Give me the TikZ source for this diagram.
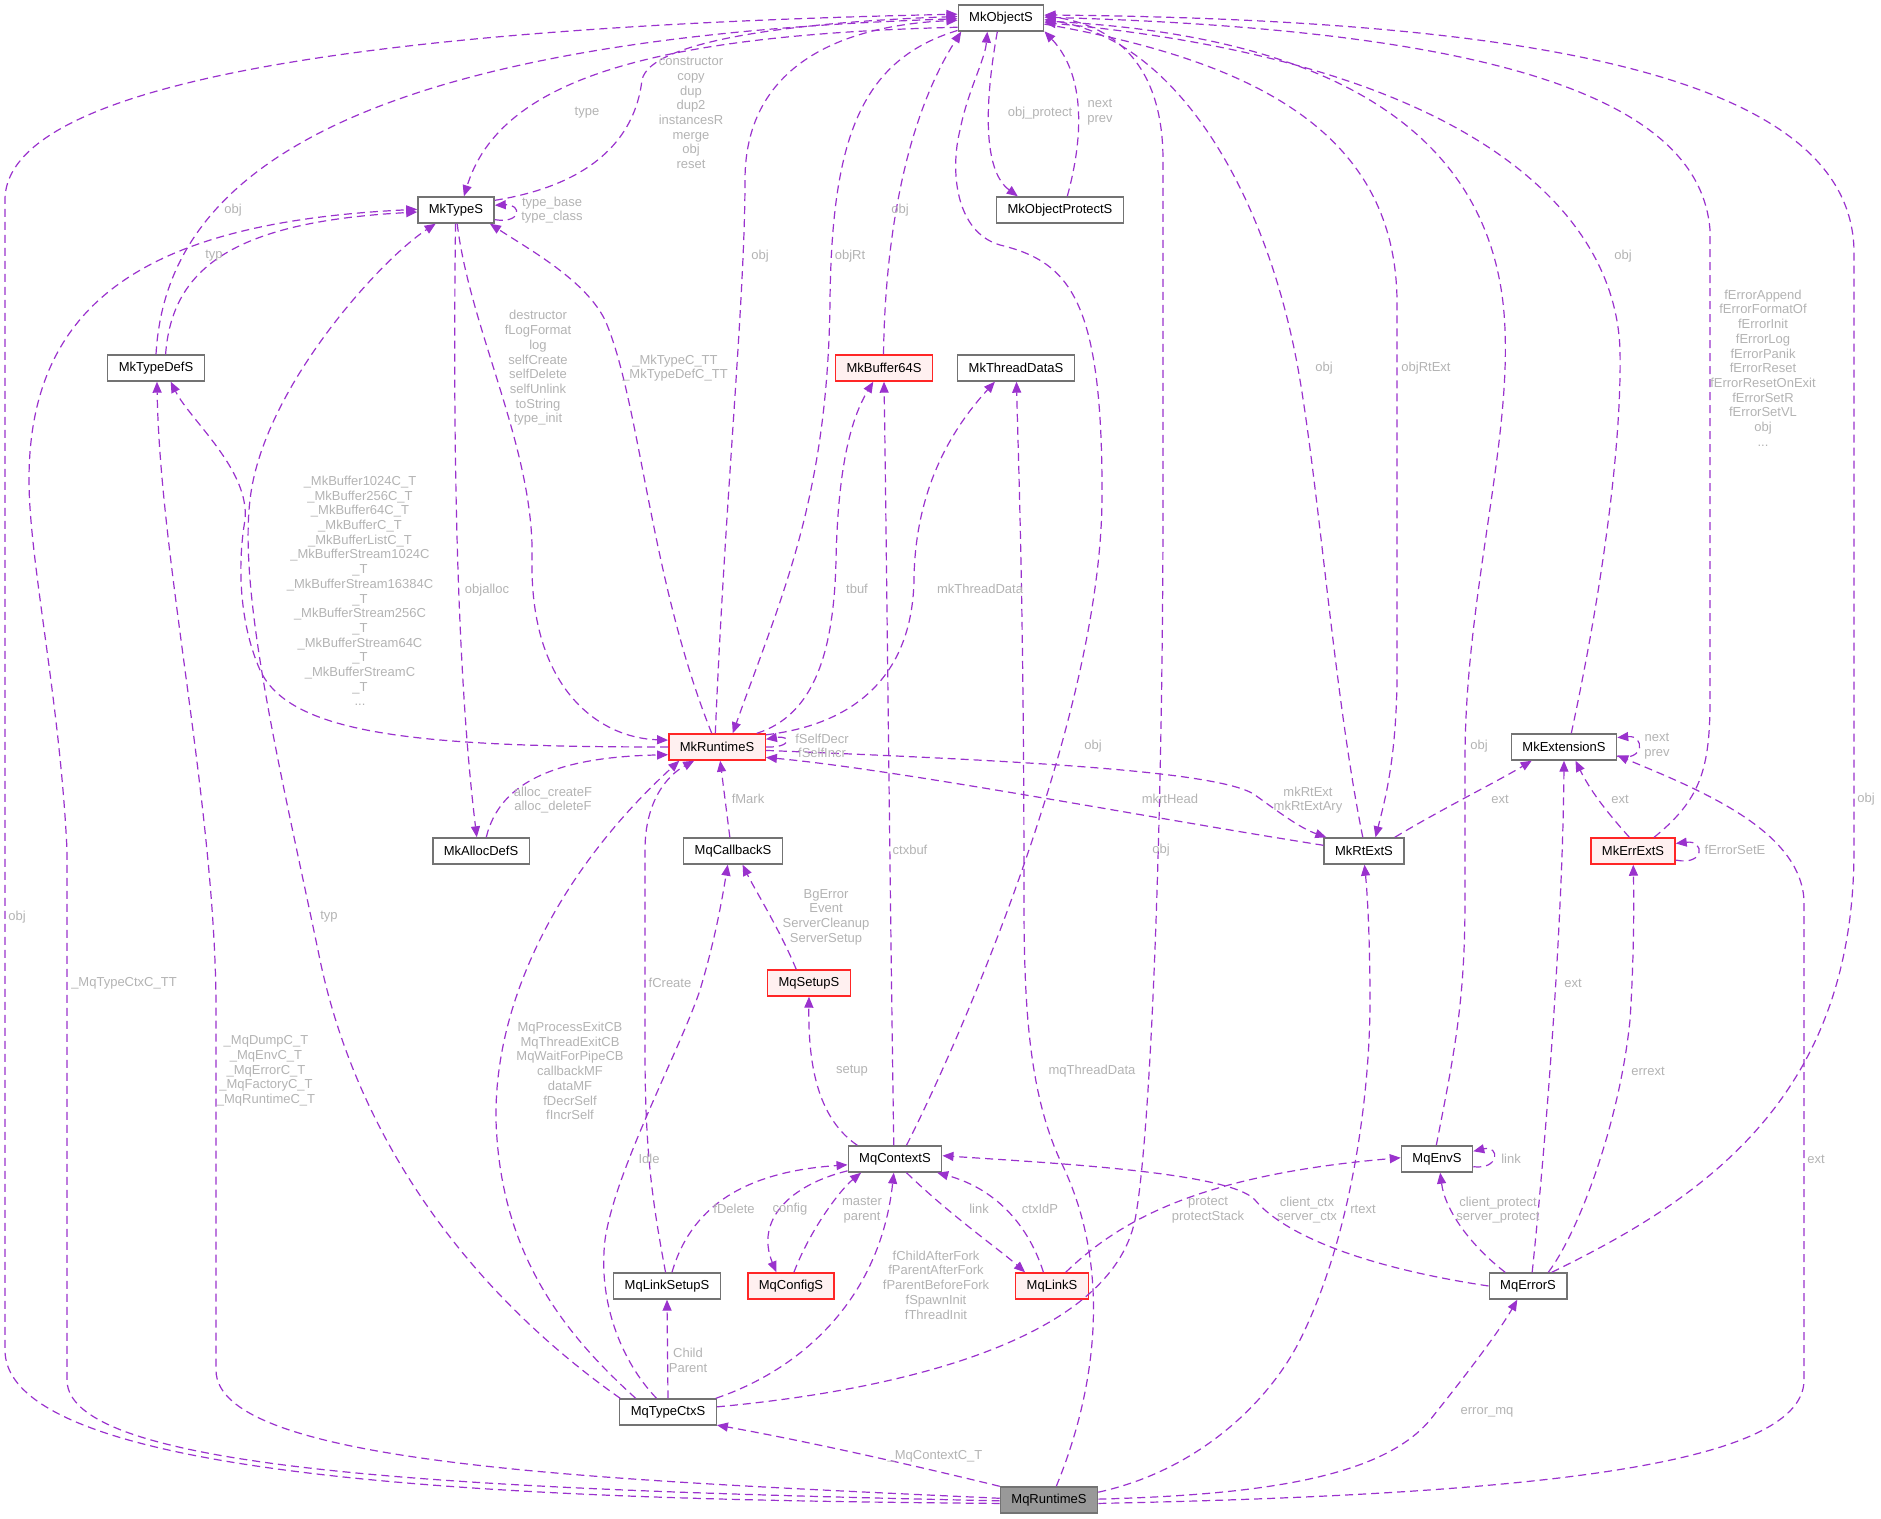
\documentclass[tikz,border=0pt]{standalone}
\usepackage{fontspec}
\setmainfont{Liberation Sans}
\usepackage{tikz}
\usetikzlibrary{arrows.meta}

\definecolor{edgecol}{HTML}{9A32CD}
\definecolor{lblgray}{HTML}{B3B3B3}
\definecolor{boxgray}{HTML}{737373}
\definecolor{truncfill}{HTML}{FFF0F0}
\definecolor{rootfill}{HTML}{999999}

\tikzset{
  cls/.style={draw=boxgray, fill=white, line width=0.7pt, minimum height=13pt, inner xsep=5.5pt, inner ysep=0pt},
  trunc/.style={cls, draw=red!85!white, fill=truncfill},
  root/.style={cls, fill=rootfill},
  rel/.style={->, draw=edgecol, line width=0.6pt, dash pattern=on 4pt off 2.5pt},
  lbl/.style={text=lblgray, align=center, inner sep=0pt}
}

\begin{document}
\begin{tikzpicture}[x=0.5pt,y=-0.5pt,>={Triangle[length=5.5pt,width=4.5pt]},
    every node/.style={font=\fontsize{6.5}{7.35}\selectfont}]
				\useasboundingbox (0,0) rectangle (1881,1519);

				% Draw the structs
				\node[cls] (mkobject) at (1001,18) {MkObjectS};
				\node[cls] (mktype) at (456,210) {MkTypeS};
				\node[cls] (mkprotect) at (1060,210) {MkObjectProtectS};
				\node[cls] (mktypedef) at (156,368) {MkTypeDefS};
				\node[trunc] (mkbuf) at (884,368) {MkBuffer64S};
				\node[cls] (mkthread) at (1016,368) {MkThreadDataS};
				\node[trunc] (mkrt) at (717,747) {MkRuntimeS};
				\node[cls] (mkext) at (1564,747) {MkExtensionS};
				\node[cls] (mkalloc) at (481,851) {MkAllocDefS};
				\node[cls] (mqcallback) at (733,851) {MqCallbackS};
				\node[cls] (mkrtext) at (1364,851) {MkRtExtS};
				\node[trunc] (mkerrext) at (1633,851) {MkErrExtS};
				\node[trunc] (mqsetup) at (809,983) {MqSetupS};
				\node[cls] (mqctx) at (895,1159) {MqContextS};
				\node[cls] (mqenv) at (1437,1159) {MqEnvS};
				\node[cls] (mqlinksetup) at (667,1286) {MqLinkSetupS};
				\node[trunc] (mqconfig) at (791,1286) {MqConfigS};
				\node[trunc] (mqlink) at (1052,1286) {MqLinkS};
				\node[cls] (mqerror) at (1528,1286) {MqErrorS};
				\node[cls] (mqtypectx) at (668,1412) {MqTypeCtxS};
				\node[root] (mqrt) at (1049,1500) {MqRuntimeS};

				% Draw the edges into MkObjectS and MkTypeS
				\draw[rel] (mkobject.192) .. controls (650,35) and (500,80) .. (mktype.60);
				\draw[rel] (mktype.14) .. controls (590,185) and (635,140) .. (642,80) .. controls (650,40) and (800,22) .. (mkobject.178);
				\draw[rel] (mktype.-14) .. controls (522,224) and (522,204) .. (mktype.7);
				\draw[rel] (mktypedef.north) .. controls (165,200) and (300,40) .. (mkobject.181);
				\draw[rel] (mktypedef.55) .. controls (172,270) and (230,222) .. (mktype.183);
				\draw[rel] (mqrt.181) .. controls (500,1490) and (67,1475) .. (67,1380) -- (67,850) .. controls (60,700) and (29,560) .. (29,480) .. controls (29,300) and (150,222) .. (mktype.179);
				\draw[rel] (mqrt.184) .. controls (600,1500) and (5,1490) .. (5,1350) -- (5,200) .. controls (5,70) and (450,25) .. (mkobject.175);
				\draw[rel] (mqrt.178) .. controls (600,1480) and (216,1465) .. (216,1370) -- (216,1000) .. controls (214,800) and (160,560) .. (mktypedef.-86);
				\draw[rel] (mkobject.-105) .. controls (985,100) and (982,170) .. (mkprotect.162);
				\draw[rel] (mkprotect.62) .. controls (1080,150) and (1090,80) .. (mkobject.-17);
				\draw[rel] (mkobject.196) .. controls (860,60) and (832,140) .. (830,300) .. controls (828,500) and (780,600) .. (mkrt.41);
				\draw[rel] (mkrt.97) .. controls (725,500) and (745,300) .. (745,180) .. controls (745,60) and (850,25) .. (mkobject.183);
				\draw[rel] (mkbuf.92) .. controls (885,240) and (905,120) .. (mkobject.-161);
				\draw[rel] (mkrt.111) .. controls (650,580) and (640,400) .. (605,320) .. controls (585,280) and (530,250) .. (mktype.-22);
				\draw[rel] (mkrt.west) .. controls (420,747) and (290,735) .. (260,670) .. controls (238,620) and (238,560) .. (245,520) .. controls (250,470) and (190,420) .. (mktypedef.-43);
				\draw[rel] (mktype.-92) .. controls (452,500) and (460,700) .. (mkalloc.107);
				\draw[rel] (mktype.-85) .. controls (470,330) and (535,450) .. (532,560) .. controls (530,690) and (600,738) .. (mkrt.172);
				\draw[rel] (mkalloc.69) .. controls (500,780) and (560,757) .. (mkrt.189);
				\draw[rel] (mqtypectx.164) .. controls (480,1300) and (360,1150) .. (320,960) .. controls (285,790) and (238,600) .. (250,500) .. controls (262,390) and (380,260) .. (mktype.-146);

				% Draw the edges of MqTypeCtxS
				\draw[rel] (mqtypectx.157) .. controls (560,1330) and (500,1250) .. (496,1120) .. controls (494,1000) and (560,870) .. (mkrt.-160);
				\draw[rel] (mqtypectx.130) .. controls (620,1360) and (598,1300) .. (605,1240) .. controls (615,1170) and (680,1050) .. (700,990) .. controls (715,940) and (722,900) .. (mqcallback.-111);
				\draw[rel] (mqlinksetup.96) .. controls (652,1200) and (645,1150) .. (645,1050) -- (645,850) .. controls (645,800) and (668,775) .. (mkrt.-149);
				\draw[rel] (mqlinksetup.70) .. controls (690,1210) and (740,1172) .. (mqctx.187);
				\draw[rel] (mqtypectx.north) -- (mqlinksetup.south);
				\draw[rel] (mqtypectx.16) .. controls (800,1370) and (880,1300) .. (mqctx.-95);
				\draw[rel] (mqtypectx.6) .. controls (900,1390) and (1110,1340) .. (1135,1220) .. controls (1152,1130) and (1163,800) .. (1163,500) -- (1163,160) .. controls (1163,60) and (1110,25) .. (mkobject.3);
				\draw[rel] (mqrt.north west) .. controls (900,1462) and (800,1440) .. (mqtypectx.-15);

				% Draw the edges of MqContextS
				\draw[rel] (mqctx.160) .. controls (820,1120) and (808,1070) .. (mqsetup.south);
				\draw[rel] (mqsetup.133) .. controls (780,930) and (755,890) .. (mqcallback.-55);
				\draw[rel] (mqcallback.103) -- (mkrt.-77);
				\draw[rel] (mqctx.95) .. controls (890,900) and (886,500) .. (mkbuf.south);
				\draw[rel] (mkrt.19) .. controls (815,715) and (834,650) .. (836,560) .. controls (838,470) and (850,420) .. (mkbuf.-128);
				\draw[rel] (mkrt.14) .. controls (850,725) and (912,680) .. (914,580) .. controls (915,480) and (960,420) .. (mkthread.-147);
				\draw[rel] (mqrt.62) .. controls (1100,1380) and (1110,1260) .. (1060,1160) .. controls (1028,1090) and (1024,1000) .. (1024,900) .. controls (1024,600) and (1018,450) .. (mkthread.-88);
				\draw[rel] (mqctx.50) .. controls (960,1040) and (1100,720) .. (1102,500) .. controls (1103,300) and (1070,262) .. (1000,245) .. controls (955,232) and (950,170) .. (960,130) .. controls (968,90) and (985,60) .. (mkobject.-135);
				\draw[rel] (mqctx.194) .. controls (790,1185) and (755,1220) .. (mqconfig.137);
				\draw[rel] (mqconfig.78) .. controls (810,1230) and (840,1190) .. (mqctx.-158);
				\draw[rel] (mqctx.-50) .. controls (950,1215) and (1000,1250) .. (mqlink.153);
				\draw[rel] (mqlink.122) .. controls (1030,1230) and (1000,1190) .. (mqctx.-18);
				\draw[rel] (mqlink.45) .. controls (1120,1220) and (1200,1175) .. (mqenv.178);

				% Draw the edges on the right side
				\draw[rel] (mkobject.-8) .. controls (1250,60) and (1395,130) .. (1397,300) -- (1397,680) .. controls (1396,760) and (1385,800) .. (mkrtext.50);
				\draw[rel] (mkrtext.95) .. controls (1335,700) and (1320,500) .. (1300,380) .. controls (1270,200) and (1180,40) .. (mkobject.-2);
				\draw[rel] (mqenv.93) .. controls (1455,1050) and (1465,1000) .. (1465,900) -- (1465,760) .. controls (1465,600) and (1510,450) .. (1505,330) .. controls (1500,180) and (1400,40) .. (mkobject.-4);
				\draw[rel] (mkext.62) .. controls (1600,600) and (1622,450) .. (1620,350) .. controls (1615,200) and (1450,60) .. (mkobject.-6);
				\draw[rel] (mkerrext.33) .. controls (1700,800) and (1710,770) .. (1710,700) -- (1710,230) .. controls (1700,100) and (1500,30) .. (mkobject.1);
				\draw[rel] (mqerror.30) .. controls (1700,1200) and (1854,1100) .. (1854,850) -- (1854,250) .. controls (1850,80) and (1550,20) .. (mkobject.4);
				\draw[rel] (mqrt.-4) .. controls (1500,1495) and (1804,1470) .. (1804,1380) -- (1804,900) .. controls (1800,830) and (1700,790) .. (mkext.-9);
				\draw[rel] (mqrt.1) .. controls (1250,1495) and (1380,1480) .. (1430,1420) .. controls (1470,1370) and (1500,1330) .. (mqerror.-128);
				\draw[rel] (mqrt.9) .. controls (1200,1470) and (1270,1400) .. (1300,1340) .. controls (1350,1240) and (1370,1100) .. (1370,1000) .. controls (1370,950) and (1368,900) .. (mkrtext.-88);
				\draw[rel] (mqerror.34) .. controls (1580,1230) and (1620,1120) .. (1630,1020) .. controls (1634,960) and (1634,900) .. (mkerrext.-89);
				\draw[rel] (mqerror.73) .. controls (1550,1100) and (1563,900) .. (mkext.south);
				\draw[rel] (mkerrext.105) .. controls (1605,810) and (1590,790) .. (mkext.-50);
				\draw[rel] (mkrtext.24) .. controls (1440,810) and (1500,780) .. (mkext.-157);
				\draw[rel] (mkext.-10) .. controls (1645,762) and (1645,735) .. (mkext.10);
				\draw[rel] (mkerrext.-12) .. controls (1705,866) and (1705,840) .. (mkerrext.10);
				\draw[rel] (mkrt.0) .. controls (792,748) and (792,735) .. (mkrt.9);
				\draw[rel] (mqerror.west) .. controls (1350,1265) and (1280,1230) .. (1255,1200) .. controls (1230,1172) and (1050,1163) .. (mqctx.4);
				\draw[rel] (mqerror.149) .. controls (1470,1245) and (1445,1210) .. (mqenv.-77);
				\draw[rel] (mqenv.-12) .. controls (1500,1170) and (1500,1145) .. (mqenv.12);
				\draw[rel] (mkrt.-4) .. controls (1000,760) and (1220,770) .. (1255,795) .. controls (1280,813) and (1300,828) .. (mkrtext.160);
				\draw[rel] (mkrtext.172) .. controls (1150,818) and (900,770) .. (mkrt.-12);

				% Place the member labels
				\node[lbl] (l-type) at (587,113) {type};
				\node[lbl] (l-ctor) at (691,113) {constructor\\copy\\dup\\dup2\\instancesR\\merge\\obj\\reset};
				\node[lbl] (l-typebase) at (552,210) {type\_base\\type\_class};
				\node[lbl] (l-defobj) at (233,210) {obj};
				\node[lbl] (l-deftyp) at (214,256) {typ};
				\node[lbl] (l-protect) at (1040,113) {obj\_protect};
				\node[lbl] (l-protnext) at (1100,112) {next\\prev};
				\node[lbl] (l-rtobj) at (760,256) {obj};
				\node[lbl] (l-objrt) at (850,256) {objRt};
				\node[lbl] (l-bufobj) at (900,210) {obj};
				\node[lbl] (l-rtextobj) at (1324,368) {obj};
				\node[lbl] (l-objrtext) at (1426,368) {objRtExt};
				\node[lbl] (l-extobj) at (1623,256) {obj};
				\node[lbl] (l-ferror) at (1763,368) {fErrorAppend\\fErrorFormatOf\\fErrorInit\\fErrorLog\\fErrorPanik\\fErrorReset\\fErrorResetOnExit\\fErrorSetR\\fErrorSetVL\\obj\\...};
				\node[lbl] (l-dtor) at (538,368) {destructor\\fLogFormat\\log\\selfCreate\\selfDelete\\selfUnlink\\toString\\type\_init};
				\node[lbl] (l-typec) at (675,368) {\_MkTypeC\_TT\\\_MkTypeDefC\_TT};
				\node[lbl] (l-mkbuffer) at (360,591) {\_MkBuffer1024C\_T\\\_MkBuffer256C\_T\\\_MkBuffer64C\_T\\\_MkBufferC\_T\\\_MkBufferListC\_T\\\_MkBufferStream1024C\\\_T\\\_MkBufferStream16384C\\\_T\\\_MkBufferStream256C\\\_T\\\_MkBufferStream64C\\\_T\\\_MkBufferStreamC\\\_T\\...};
				\node[lbl] (l-objalloc) at (487,590) {objalloc};
				\node[lbl] (l-tbuf) at (857,589) {tbuf};
				\node[lbl] (l-mkthread) at (980,589) {mkThreadData};
				\node[lbl] (l-fself) at (822,746) {fSelfDecr\\fSelfIncr};
				\node[lbl] (l-ctxobj) at (1093,746) {obj};
				\node[lbl] (l-envobj) at (1479,746) {obj};
				\node[lbl] (l-extnext) at (1657,746) {next\\prev};
				\node[lbl] (l-alloc) at (553,800) {alloc\_createF\\alloc\_deleteF};
				\node[lbl] (l-fmark) at (748,799) {fMark};
				\node[lbl] (l-mkrthead) at (1170,799) {mkrtHead};
				\node[lbl] (l-mkrtext) at (1308,800) {mkRtExt\\mkRtExtAry};
				\node[lbl] (l-rtextext) at (1500,799) {ext};
				\node[lbl] (l-errextext) at (1620,799) {ext};
				\node[lbl] (l-fseterr) at (1735,850) {fErrorSetE};
				\node[lbl] (l-errobj) at (1866,799) {obj};
				\node[lbl] (l-ctxbuf) at (910,850) {ctxbuf};
				\node[lbl] (l-tctxobj) at (1161,850) {obj};
				\node[lbl] (l-setupcb) at (826,917) {BgError\\Event\\ServerCleanup\\ServerSetup};
				\node[lbl] (l-tctxtyp) at (329,917) {typ};
				\node[lbl] (l-rtobj2) at (17,917) {obj};
				\node[lbl] (l-typectxtt) at (124,983) {\_MqTypeCtxC\_TT};
				\node[lbl] (l-fcreate) at (670,983) {fCreate};
				\node[lbl] (l-errorext) at (1573,983) {ext};
				\node[lbl] (l-exitcb) at (570,1071) {MqProcessExitCB\\MqThreadExitCB\\MqWaitForPipeCB\\callbackMF\\dataMF\\fDecrSelf\\fIncrSelf};
				\node[lbl] (l-mqdump) at (266,1071) {\_MqDumpC\_T\\\_MqEnvC\_T\\\_MqErrorC\_T\\\_MqFactoryC\_T\\\_MqRuntimeC\_T};
				\node[lbl] (l-setup) at (852,1071) {setup};
				\node[lbl] (l-mqthread) at (1092,1071) {mqThreadData};
				\node[lbl] (l-errext) at (1648,1071) {errext};
				\node[lbl] (l-idle) at (649,1159) {Idle};
				\node[lbl] (l-envlink) at (1511,1159) {link};
				\node[lbl] (l-rtext2) at (1816,1159) {ext};
				\node[lbl] (l-fdelete) at (734,1209) {fDelete};
				\node[lbl] (l-config) at (790,1209) {config};
				\node[lbl] (l-master) at (862,1210) {master\\parent};
				\node[lbl] (l-link) at (979,1209) {link};
				\node[lbl] (l-ctxidp) at (1040,1209) {ctxIdP};
				\node[lbl] (l-protect2) at (1208,1210) {protect\\protectStack};
				\node[lbl] (l-clientctx) at (1307,1210) {client\_ctx\\server\_ctx};
				\node[lbl] (l-rtext) at (1363,1209) {rtext};
				\node[lbl] (l-clientprot) at (1498,1210) {client\_protect\\server\_protect};
				\node[lbl] (l-fork) at (936,1285) {fChildAfterFork\\fParentAfterFork\\fParentBeforeFork\\fSpawnInit\\fThreadInit};
				\node[lbl] (l-child) at (688,1360) {Child\\Parent};
				\node[lbl] (l-errormq) at (1487,1412) {error\_mq};
				\node[lbl] (l-ctxc) at (935,1456) {\_MqContextC\_T};
\end{tikzpicture}
\end{document}
